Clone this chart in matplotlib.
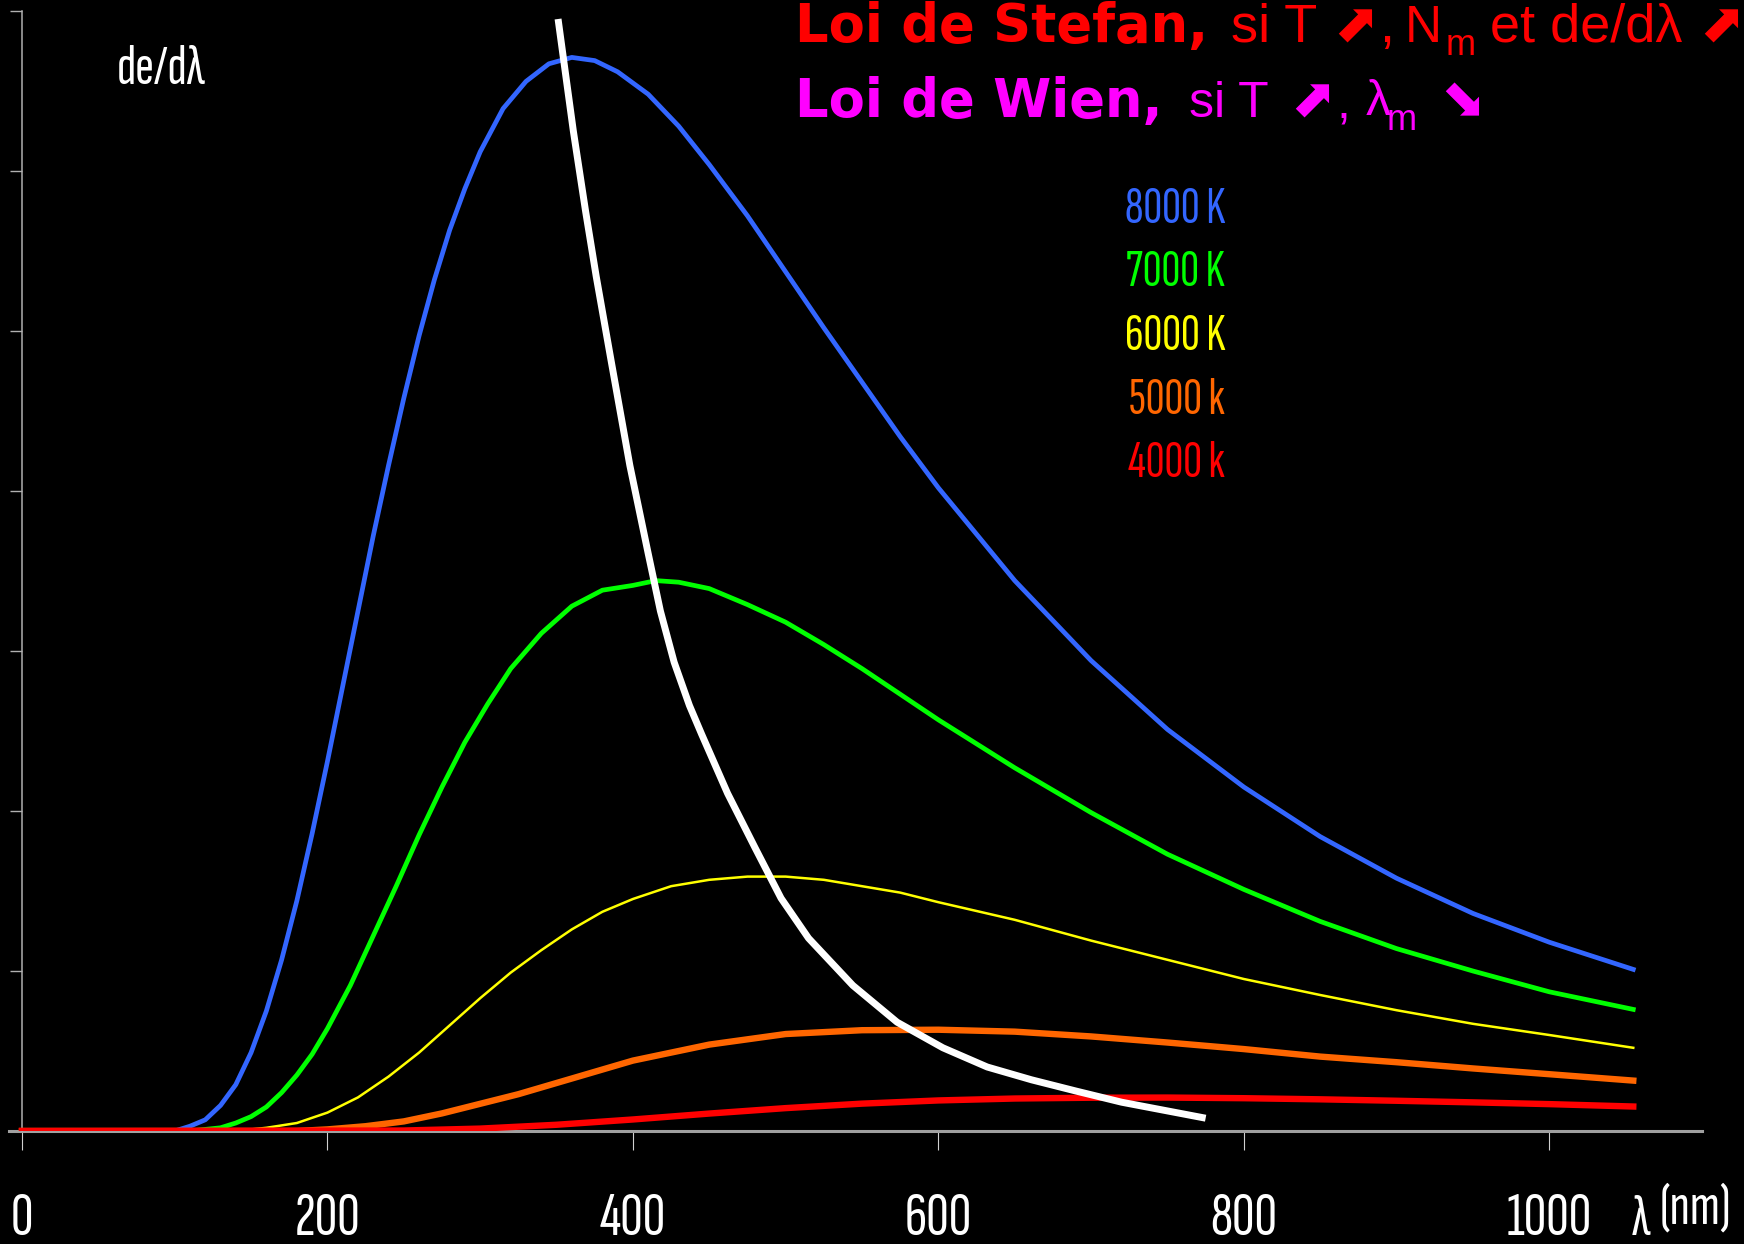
import matplotlib
matplotlib.use("Agg")
import matplotlib.pyplot as plt

# ---- data (y in tick units, x in nm) ----
wl_8000 = [0, 100, 110, 120, 130, 140, 150, 160, 170, 180, 190, 200, 210, 220, 230,
           240, 250, 260, 270, 280, 290, 300, 315, 330, 345, 360, 375, 390, 410,
           430, 450, 475, 500, 525, 550, 575, 600, 650, 700, 750, 800, 850, 900,
           950, 1000, 1055]
de_8000 = [0, 0.0, 0.03, 0.07, 0.16, 0.29, 0.49, 0.75, 1.07, 1.44, 1.86, 2.31, 2.78,
           3.25, 3.72, 4.16, 4.58, 4.97, 5.32, 5.63, 5.89, 6.12, 6.39, 6.56, 6.67,
           6.71, 6.69, 6.62, 6.48, 6.28, 6.04, 5.72, 5.37, 5.02, 4.68, 4.34, 4.02,
           3.44, 2.94, 2.51, 2.15, 1.84, 1.58, 1.36, 1.18, 1.01]

wl_7000 = [0, 110, 120, 130, 140, 150, 160, 170, 180, 190, 200, 215, 230, 245, 260,
           275, 290, 305, 320, 340, 360, 380, 400, 415, 430, 450, 475, 500, 525,
           550, 600, 650, 700, 750, 800, 850, 900, 950, 1000, 1055]
de_7000 = [0, 0.0, 0.01, 0.02, 0.05, 0.09, 0.15, 0.24, 0.35, 0.48, 0.64, 0.91, 1.22,
           1.53, 1.85, 2.15, 2.43, 2.67, 2.89, 3.11, 3.28, 3.38, 3.41, 3.44, 3.43,
           3.39, 3.29, 3.18, 3.04, 2.89, 2.57, 2.27, 1.99, 1.73, 1.51, 1.31, 1.14,
           1.00, 0.87, 0.76]

wl_6000 = [0, 140, 160, 180, 200, 220, 240, 260, 280, 300, 320, 340, 360, 380, 400,
           425, 450, 475, 500, 525, 550, 575, 600, 650, 700, 750, 800, 850, 900,
           950, 1000, 1055]
de_6000 = [0, 0.0, 0.02, 0.05, 0.115, 0.21, 0.34, 0.49, 0.66, 0.83, 0.99, 1.13, 1.26,
           1.37, 1.45, 1.53, 1.57, 1.59, 1.59, 1.57, 1.53, 1.49, 1.43, 1.32, 1.19,
           1.07, 0.95, 0.85, 0.755, 0.67, 0.60, 0.52]

wl_5000 = [0, 180, 200, 225, 250, 275, 300, 325, 350, 375, 400, 450, 500, 550, 600,
           650, 700, 750, 800, 850, 900, 950, 1000, 1055]
de_5000 = [0, 0.0, 0.01, 0.03, 0.06, 0.11, 0.17, 0.23, 0.30, 0.37, 0.44, 0.54, 0.606,
           0.630, 0.633, 0.621, 0.591, 0.553, 0.512, 0.465, 0.43, 0.391, 0.355, 0.315]

wl_4000 = [0, 250, 300, 350, 400, 450, 500, 550, 600, 650, 700, 750, 800, 850, 900,
           950, 1000, 1055]
de_4000 = [0, 0.003, 0.015, 0.039, 0.072, 0.109, 0.143, 0.171, 0.191, 0.203, 0.208,
           0.209, 0.205, 0.198, 0.189, 0.179, 0.168, 0.153]

# white curve (locus of the maxima)
wien_x = [351, 361, 369, 376, 386, 398, 410, 418, 427, 437, 445, 462, 480, 497, 515,
          544, 573, 603, 632, 661, 690, 720, 775]
wien_y = [6.95, 6.25, 5.75, 5.34, 4.80, 4.16, 3.61, 3.25, 2.93, 2.66, 2.48, 2.11,
          1.77, 1.455, 1.205, 0.91, 0.68, 0.52, 0.40, 0.32, 0.25, 0.18, 0.08]

x_ticks = [0, 200, 400, 600, 800, 1000]
x_tick_labels = ["0", "200", "400", "600", "800", "1000"]
y_ticks = [0, 1, 2, 3, 4, 5, 6, 7]
temp_labels = ["8000 K", "7000 K", "6000 K", "5000 k", "4000 k"]

W, H = 1744, 1244
colors = ["#3366FF", "#00FF00", "#FFFF00", "#FF6600", "#FF0000"]
widths = [3.4, 3.4, 1.8, 4.6, 4.6]

NARROW = ["Sofia Sans Extra Condensed", "DejaVu Sans"]
REG = ["Liberation Sans", "DejaVu Sans"]
BOLD = "DejaVu Sans"
ARROW = ["DejaVu Sans", "Noto Sans"]

fig = plt.figure(figsize=(W / 100, H / 100), dpi=100, facecolor="black")
ax = fig.add_axes([9 / W, 1 - 1131 / H, 1693 / W, 1120 / H])
ax.set_facecolor("black")

series = [(wl_8000, de_8000), (wl_7000, de_7000), (wl_6000, de_6000),
          (wl_5000, de_5000), (wl_4000, de_4000)]
for (xs, ys), c, lw in zip(series, colors, widths):
    ax.plot(xs, ys, color=c, lw=lw, zorder=3)
ax.plot(wien_x, wien_y, color="white", lw=5, solid_capstyle="butt", zorder=4)

ax.set_xlim(-8.5, 1100)
ax.set_ylim(0, 7)
for s in ["top", "right"]:
    ax.spines[s].set_visible(False)
ax.spines["left"].set_position(("data", 0))
ax.spines["left"].set_color("#B0B0B0")
ax.spines["left"].set_linewidth(1.1)
ax.spines["bottom"].set_color("#A0A0A0")
ax.spines["bottom"].set_linewidth(2.2)
ax.spines["bottom"].set_zorder(2)

ax.set_xticks(x_ticks)
ax.set_xticklabels(x_tick_labels, family=NARROW, fontsize=45, color="white")
ax.tick_params(axis="x", direction="out", length=14, width=0.8, colors="#D0D0D0",
               pad=30, labelcolor="white")
ax.set_yticks(y_ticks)
ax.set_yticklabels([])
ax.tick_params(axis="y", direction="out", length=9, width=1.0, colors="#B0B0B0")


def ftext(x, y, s, **kw):
    fig.text(x / W, 1 - y / H, s, va="baseline", **kw)


# axis captions
ftext(117, 84, "de/d\u03bb", family=NARROW, fontsize=41, color="white")
ftext(1632, 1235, "\u03bb", family=NARROW, fontsize=42, color="white")
ftext(1660, 1223, "(nm)", family=NARROW, fontsize=42, color="white")

# temperature labels
for i, (lab, c) in enumerate(zip(temp_labels, colors)):
    ftext(1225, 223 + i * 63.5, lab, ha="right", family=NARROW, fontsize=37.5, color=c)

# laws
red, mag = "#FF0000", "#FF00FF"
ftext(795, 42, "Loi de Stefan,", family=BOLD, weight="bold", fontsize=38, color=red)
ftext(1231, 42, "si T", family=REG, fontsize=39, color=red)
ftext(1333, 42, "\u2b08", family=ARROW, fontsize=39, color=red)
ftext(1379, 42, ",", family=REG, fontsize=39, color=red)
ftext(1405, 42, "N", family=REG, fontsize=37, color=red)
ftext(1446, 55, "m", family=REG, fontsize=26, color=red)
ftext(1490, 42, "et de/d\u03bb", family=REG, fontsize=39, color=red)
ftext(1699, 42, "\u2b08", family=ARROW, fontsize=39, color=red)

ftext(795, 117, "Loi de Wien,", family=BOLD, weight="bold", fontsize=38, color=mag)
ftext(1189, 117, "si T", family=REG, fontsize=36, color=mag)
ftext(1290, 117, "\u2b08", family=ARROW, fontsize=39, color=mag)
ftext(1337, 117, ",", family=REG, fontsize=36, color=mag)
ftext(1366, 115, "\u03bb", family=REG, fontsize=36, color=mag)
ftext(1387, 130, "m", family=REG, fontsize=26, color=mag)
ftext(1440, 117, "\u2b0a", family=ARROW, fontsize=39, color=mag)

fig.savefig("out.png", dpi=100, facecolor="black")
